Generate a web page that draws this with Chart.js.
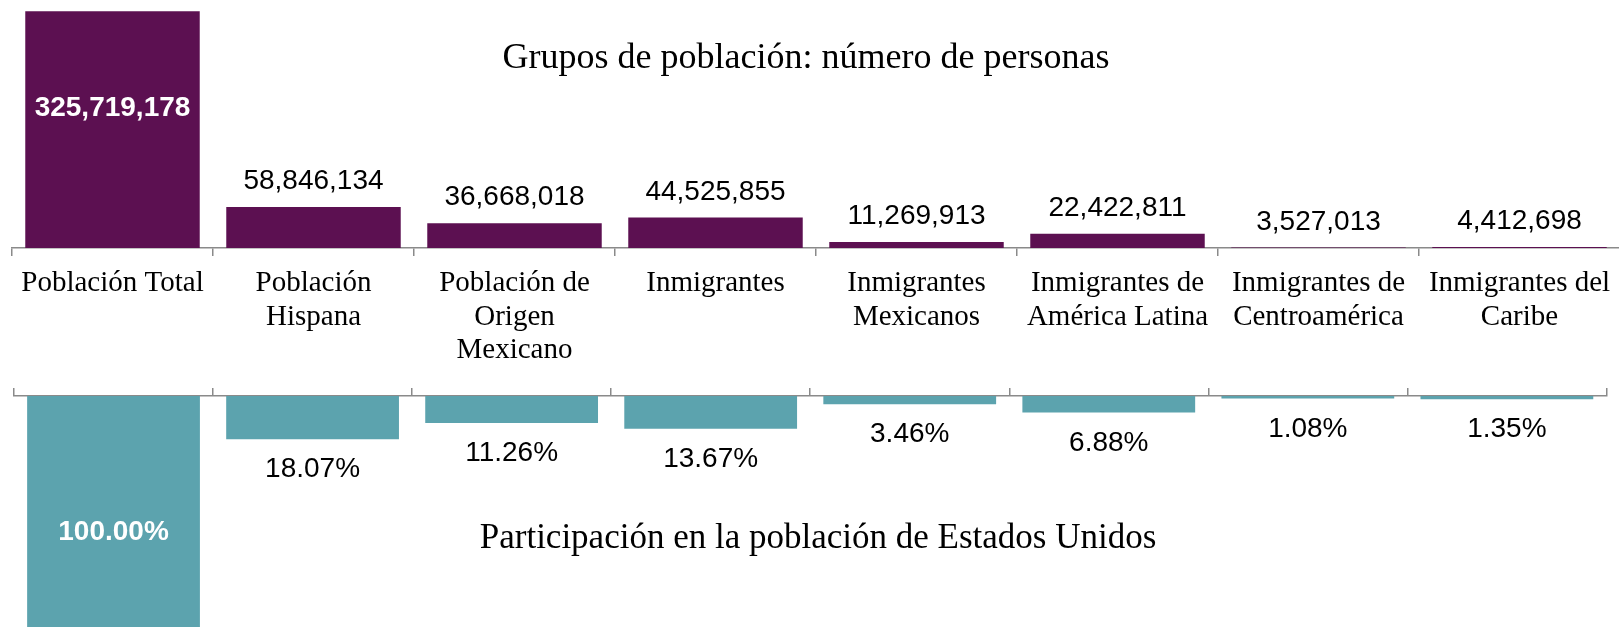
<!doctype html>
<html>
<head>
  <meta charset="utf-8">
  <title>Grupos de población</title>
  <style>
    html, body { margin:0; padding:0; background:#fff; overflow:hidden; }
    #wrap { position:relative; width:1619px; height:627px; overflow:hidden; }
    canvas { position:absolute; left:0; }
    #topChart { top:0; }
    #bottomChart { top:380px; }
  </style>
  <script src="https://cdn.jsdelivr.net/npm/chart.js"></script>
</head>
<body>
  <div id="wrap">
    <canvas id="topChart" width="1625" height="390"></canvas>
    <canvas id="bottomChart" width="1619" height="256"></canvas>
  </div>

  <script>
    const categories = [
      ['Población Total'],
      ['Población', 'Hispana'],
      ['Población de', 'Origen', 'Mexicano'],
      ['Inmigrantes'],
      ['Inmigrantes', 'Mexicanos'],
      ['Inmigrantes de', 'América Latina'],
      ['Inmigrantes de', 'Centroamérica'],
      ['Inmigrantes del', 'Caribe']
    ];
    const personas = [325719178, 58846134, 36668018, 44525855, 11269913, 22422811, 3527013, 4412698];
    const participacion = [100.00, 18.07, 11.26, 13.67, 3.46, 6.88, 1.08, 1.35];

    const titlePersonas = 'Grupos de población: número de personas';
    const titleParticipacion = 'Participación en la población de Estados Unidos';

    // the horizontal axis of the upper chart crosses at about 3 million
    const personasCross = 3000000;
    const personasMax = 326000000;

    const PURPLE = '#5c1051';
    const TEAL = '#5ca3ae';
    const AXIS = '#8a8a8a';
    const NUM_FONT = '"Liberation Sans", Arial, sans-serif';
    const SERIF = '"Liberation Serif", "Times New Roman", serif';

    // value labels + caption, drawn after the bars
    const barLabels = {
      id: 'barLabels',
      afterDatasetsDraw(chart, args, opts) {
        const ctx = chart.ctx;
        const meta = chart.getDatasetMeta(0);
        const values = chart.data.datasets[0].data;
        ctx.save();
        ctx.textAlign = 'center';
        ctx.textBaseline = 'alphabetic';
        meta.data.forEach((bar, i) => {
          const v = values[i];
          const text = opts.percent ? v.toFixed(2) + '%' : v.toLocaleString('en-US');
          if (i === opts.insideIndex) {
            ctx.font = 'bold 28px ' + NUM_FONT;
            ctx.fillStyle = '#fff';
            const y = opts.down ? bar.base + opts.insideOffset : bar.y + opts.insideOffset;
            ctx.fillText(text, bar.x, y);
          } else {
            ctx.font = '28px ' + NUM_FONT;
            ctx.fillStyle = '#000';
            const y = opts.down ? bar.y + opts.gap + 20 : bar.y - opts.gap;
            ctx.fillText(text, bar.x, y);
          }
        });
        ctx.font = opts.captionSize + 'px ' + SERIF;
        ctx.fillStyle = '#000';
        ctx.fillText(opts.caption, opts.captionX, opts.captionY);
        ctx.restore();
      }
    };

    new Chart(document.getElementById('topChart'), {
      type: 'bar',
      data: {
        labels: categories,
        datasets: [{
          data: personas,
          backgroundColor: PURPLE,
          base: personasCross,
          categoryPercentage: 1,
          barPercentage: 0.868
        }]
      },
      options: {
        responsive: false,
        animation: false,
        devicePixelRatio: 1,
        layout: { padding: { left: 12, right: 5, top: 11, bottom: 0 } },
        plugins: {
          legend: { display: false },
          tooltip: { enabled: false },
          barLabels: {
            percent: false, down: false, insideIndex: 0, insideOffset: 105, gap: 18,
            caption: titlePersonas, captionX: 806, captionY: 68, captionSize: 36
          }
        },
        scales: {
          x: {
            grid: { drawOnChartArea: false, tickLength: 8, color: AXIS, lineWidth: 1.5 },
            border: { color: AXIS, width: 1.5 },
            ticks: {
              color: '#000', padding: 11, maxRotation: 0, autoSkip: false,
              font: { family: SERIF, size: 29, lineHeight: 33.5 / 29 }
            },
            afterFit(scale) { scale.height = 142; }
          },
          y: { display: false, min: personasCross, max: personasMax }
        }
      },
      plugins: [barLabels]
    });

    new Chart(document.getElementById('bottomChart'), {
      type: 'bar',
      data: {
        labels: categories,
        datasets: [{
          data: participacion,
          backgroundColor: TEAL,
          categoryPercentage: 1,
          barPercentage: 0.868
        }]
      },
      options: {
        responsive: false,
        animation: false,
        devicePixelRatio: 1,
        layout: { padding: { left: 14, right: 12.6, top: 0, bottom: 0 } },
        plugins: {
          legend: { display: false },
          tooltip: { enabled: false },
          barLabels: {
            percent: true, down: true, insideIndex: 0, insideOffset: 144, gap: 18,
            caption: titleParticipacion, captionX: 818, captionY: 168, captionSize: 35
          }
        },
        scales: {
          x: {
            position: 'top',
            grid: { drawOnChartArea: false, tickLength: 8, color: AXIS, lineWidth: 1.5 },
            border: { color: AXIS, width: 1.5 },
            ticks: { display: false },
            afterFit(scale) { scale.height = 16; }
          },
          y: { display: false, reverse: true, min: 0, max: 100 }
        }
      },
      plugins: [barLabels]
    });
  </script>
</body>
</html>
